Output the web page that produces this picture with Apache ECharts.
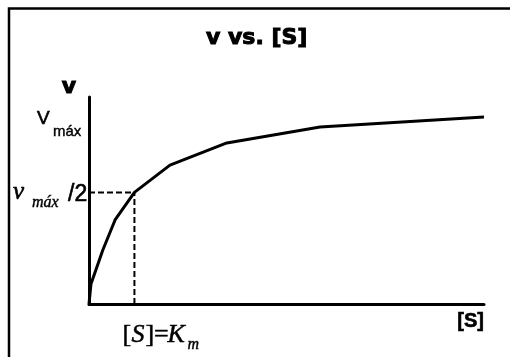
<!DOCTYPE html>
<html>
<head>
<meta charset="utf-8">
<script src="https://cdn.jsdelivr.net/npm/echarts@6/dist/echarts.min.js"></script>
<style>
html,body{margin:0;padding:0;background:#fff;}
#chart{width:510px;height:357px;}
</style>
</head>
<body>
<div id="chart"></div>
<script>
// ---- data ----
const sValues = [0, 0.5, 3.5, 6.6, 11.5, 20.5, 34.9, 58.5, 100];
const vValues = [0, 9.7, 26.1, 40.6, 53.9, 67.1, 77.8, 85.5, 90.3];
const kmValue = 11.5;
const vHalfValue = 53.9;
const vMaxTickValue = 89;
const titleText = 'v vs. [S]';
const xAxisName = '[S]';
const yAxisName = 'v';

const chart = echarts.init(document.getElementById('chart'), null, {renderer: 'canvas'});

const curve = sValues.map((s, i) => [s, vValues[i]]);
const hDash = [[0, vHalfValue], [kmValue, vHalfValue]];
const vDash = [[kmValue, 0], [kmValue, vHalfValue]];

const option = {
  animation: false,
  backgroundColor: '#ffffff',
  title: {
    text: titleText,
    left: 206,
    top: 27,
    padding: 0,
    textStyle: {fontFamily: 'DejaVu Sans', fontWeight: 'bold', fontSize: 22, color: '#000',
      textBorderColor: '#000', textBorderWidth: 1}
  },
  grid: {left: 89, right: 26, top: 97, bottom: 53},
  xAxis: {
    type: 'value', min: 0, max: 100,
    name: xAxisName, nameLocation: 'end', nameGap: 0,
    nameTextStyle: {fontFamily: 'Liberation Sans', fontWeight: 'bold', fontSize: 20, color: '#000',
      align: 'right', verticalAlign: 'top', padding: [7, 0, 0, 0],
      textBorderColor: '#000', textBorderWidth: 0.6},
    axisLine: {show: true, lineStyle: {color: '#000', width: 3}},
    axisTick: {show: false}, axisLabel: {show: false}, splitLine: {show: false}
  },
  yAxis: {
    type: 'value', min: 0, max: 100,
    name: yAxisName, nameLocation: 'end', nameGap: -2,
    nameTextStyle: {fontFamily: 'DejaVu Sans', fontWeight: 'bold', fontSize: 22, color: '#000',
      align: 'center', verticalAlign: 'bottom', padding: [0, 40, 0, 0], lineHeight: 24,
      textBorderColor: '#000', textBorderWidth: 1},
    axisLine: {show: true, lineStyle: {color: '#000', width: 3}},
    axisTick: {show: false}, axisLabel: {show: false}, splitLine: {show: false}
  },
  series: [
    {type: 'line', data: curve, showSymbol: false, symbol: 'none', clip: false,
     lineStyle: {color: '#000', width: 3}},
    {type: 'line', data: hDash, showSymbol: false, symbol: 'none',
     lineStyle: {color: '#000', width: 2, type: [6, 3]}},
    {type: 'line', data: vDash, showSymbol: false, symbol: 'none',
     lineStyle: {color: '#000', width: 2, type: [6, 3]}}
  ]
};
chart.setOption(option);

// annotation labels positioned from the axes' own scales
const origin = chart.convertToPixel({gridIndex: 0}, [0, 0]);
const halfPt = chart.convertToPixel({gridIndex: 0}, [kmValue, vHalfValue]);
const vmaxPt = chart.convertToPixel({gridIndex: 0}, [0, vMaxTickValue]);
const ax = origin[0], ay = origin[1];

function t(x, y, text, font, bw) {
  return {type: 'text', x: x, y: y, silent: true,
    style: {text: text, font: font, fill: '#000', align: 'left', verticalAlign: 'middle',
      stroke: '#000', lineWidth: bw || 0}};
}
const serif = '"Liberation Serif", "DejaVu Serif", serif';
const sans = '"Liberation Sans", Arial, sans-serif';

chart.setOption({
  graphic: [
    {type: 'rect', shape: {x: 9, y: 8.5, width: 520, height: 370},
     style: {fill: 'none', stroke: '#000', lineWidth: 2.5}, silent: true},
    // V max tick label
    t(ax - 52, vmaxPt[1] - 1, 'V', '19px ' + sans, 0.6),
    t(ax - 36, vmaxPt[1] + 12, 'máx', '15px ' + sans, 0.4),
    // v max / 2 tick label
    t(ax - 76, halfPt[1] + 0, 'v', 'italic 25px ' + serif, 0.6),
    t(ax - 57, halfPt[1] + 10, 'máx', 'italic 16px ' + serif, 0.4),
    t(ax - 21, halfPt[1] + 2, '/2', '23px ' + sans, 0.6),
    // Km label
    t(halfPt[0] - 12, ay + 31, '[', '26px ' + serif, 0.5),
    t(halfPt[0] - 3, ay + 31, 'S', 'italic 26px ' + serif, 0.5),
    t(halfPt[0] + 11, ay + 31, ']=', '26px ' + serif, 0.5),
    t(halfPt[0] + 33, ay + 31, 'K', 'italic 26px ' + serif, 0.5),
    t(halfPt[0] + 53, ay + 41, 'm', 'italic 16px ' + serif, 0.4)
  ]
});
</script>
</body>
</html>
